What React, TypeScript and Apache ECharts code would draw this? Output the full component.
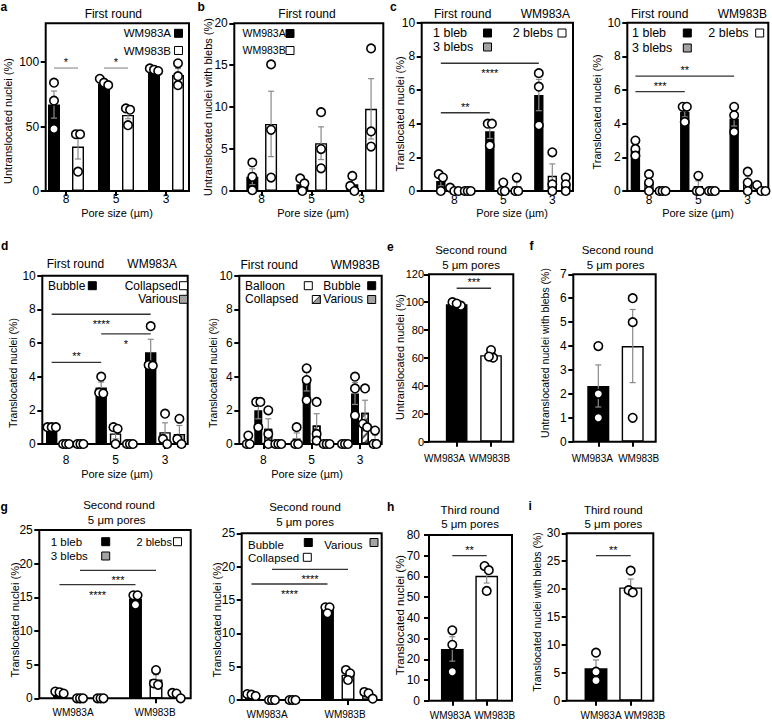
import React, { useEffect, useRef } from 'react';
import * as echarts from 'echarts';

const FONT = '"Liberation Sans", Arial, Helvetica, sans-serif';

// ================= DATA =================
// a: Untranslocated nuclei (%), first round
const aCats = ['8', '5', '3'];
const aMeanA = [67, 83, 93.5];
const aSemA = [10.5, 1.5, 0.8];
const aPtsA = [[84, 70, 48], [87, 84, 82], [95, 94, 93]];
const aMeanB = [34.5, 59, 90];
const aSemB = [9.7, 3.0, 4.9];
const aPtsB = [[44, 44, 15], [64, 63, 51], [99, 89, 82]];
const aTicks = [0, 50, 100];

// b: Untranslocated nuclei with blebs (%)
const bCats = ['8', '5', '3'];
const bMeanA = [1.7, 0.8, 0.8];
const bSemA = [0.95, 0.45, 0.55];
const bPtsA = [[3.4, 1.7, 0.1], [1.5, 0.9, 0.0], [1.8, 0.6, 0.0]];
const bMeanB = [8.0, 5.7, 9.8];
const bSemB = [3.9, 1.95, 3.6];
const bPtsB = [[15.1, 7.3, 1.6], [9.4, 5.0, 2.7], [17.0, 7.1, 5.3]];
const bTicks = [0, 5, 10, 15, 20];

// c: Translocated nuclei (%) by bleb count
const cCats = ['8', '5', '3'];
const cTicks = [0, 2, 4, 6, 8, 10];
const cAMean1 = [0.6, 3.55, 5.7];
const cASem1 = [0.3, 0.43, 0.93];
const cAPts1 = [[1.0, 0.8, 0.0], [4.0, 4.0, 2.7], [7.0, 6.2, 3.9]];
const cAMean2 = [0.07, 0.17, 0.9];
const cASem2 = [0.07, 0.17, 0.71];
const cAPts2 = [[0.2, 0, 0], [0.5, 0, 0], [2.3, 0.4, 0]];
const cAMean3 = [0, 0.27, 0.4];
const cASem3 = [0, 0.27, 0.23];
const cAPts3 = [[0, 0, 0], [0.8, 0, 0], [0.8, 0.4, 0]];
const cBMean1 = [2.45, 4.7, 4.3];
const cBSem1 = [0.26, 0.3, 0.44];
const cBPts1 = [[3.0, 2.5, 2.1], [5.0, 5.0, 4.1], [5.0, 4.5, 3.5]];
const cBMean2 = [0.5, 0.3, 0.55];
const cBSem2 = [0.29, 0.3, 0.34];
const cBPts2 = [[1.0, 0.5, 0], [0.9, 0, 0], [1.15, 0.5, 0]];
const cBMean3 = [0, 0, 0.12];
const cBSem3 = [0, 0, 0.12];
const cBPts3 = [[0, 0, 0], [0, 0, 0], [0.35, 0, 0]];

// d: Translocated nuclei (%) by bleb type
const dCats = ['8', '5', '3'];
const dTicks = [0, 2, 4, 6, 8, 10];
const dAMeanBub = [1.0, 3.35, 5.45];
const dASemBub = [0, 0.33, 0.77];
const dAPtsBub = [[1.0, 1.0, 1.0], [4.0, 3.05, 3.0], [7.0, 4.7, 4.65]];
const dAMeanCol = [0, 0.63, 0.7];
const dASemCol = [0, 0.32, 0.56];
const dAPtsCol = [[0, 0, 0], [1.0, 0.9, 0], [1.8, 0.3, 0]];
const dAMeanVar = [0, 0, 0.6];
const dASemVar = [0, 0, 0.5];
const dAPtsVar = [[0, 0, 0], [0, 0, 0], [1.5, 0.3, 0]];
const dBMeanBal = [0.17, 0.33, 0];
const dBSemBal = [0.17, 0.33, 0];
const dBPtsBal = [[0.5, 0, 0], [1.0, 0, 0], [0, 0, 0]];
const dBMeanBub = [2.0, 3.7, 3.0];
const dBSemBub = [0.5, 0.55, 0.65];
const dBPtsBub = [[2.5, 2.5, 1.0], [4.5, 3.8, 2.6], [4.0, 3.3, 1.7]];
const dBMeanCol = [0.9, 1.1, 1.85];
const dBSemCol = [0.6, 0.7, 0.75];
const dBPtsCol = [[2.0, 0.6, 0], [2.5, 0.6, 0.2], [3.3, 1.2, 1.0]];
const dBMeanVar = [0, 0, 0.27];
const dBSemVar = [0, 0, 0.27];
const dBPtsVar = [[0, 0, 0], [0, 0, 0], [0.8, 0, 0]];

// e, f: second round, 5 um pores
const lineCats = ['WM983A', 'WM983B'];
const eMean = [98.5, 62];
const eSem = [0.8, 1.7];
const ePts = [[97.5, 100, 99], [65.7, 60.2, 61]];
const eTicks = [0, 20, 40, 60, 80, 100, 120];
const fMean = [2.33, 4.0];
const fSem = [0.88, 1.53];
const fPts = [[4, 2, 1], [6, 5, 1]];
const fTicks = [0, 1, 2, 3, 4, 5, 6, 7];

// g: second round translocated by blebs / type
const gTicks = [0, 5, 10, 15, 20, 25];
const gAMean1 = [0.87, 14.8];
const gASem1 = [0.09, 0.47];
const gAPts1 = [[1.0, 0.9, 0.7], [15.3, 15.3, 13.9]];
const gAMean2 = [0, 2.8];
const gASem2 = [0, 0.7];
const gAPts2 = [[0, 0, 0], [4.2, 2.2, 2.0]];
const gAMean3 = [0, 0.5];
const gASem3 = [0, 0.26];
const gAPts3 = [[0, 0, 0], [0.8, 0.7, 0]];
const gBMeanBub = [0.77, 13.5];
const gBSemBub = [0.09, 0.3];
const gBPtsBub = [[0.9, 0.8, 0.6], [13.9, 13.9, 13.0]];
const gBMeanCol = [0, 3.8];
const gBSemCol = [0, 0.45];
const gBPtsCol = [[0, 0, 0], [4.5, 4.0, 3.0]];
const gBMeanVar = [0, 0.8];
const gBSemVar = [0, 0.3];
const gBPtsVar = [[0, 0, 0], [1.2, 1.0, 0.2]];

// h, i: third round
const hMean = [25, 60.3];
const hSem = [5.9, 3.5];
const hPts = [[34, 27, 14], [65, 63, 53]];
const hTicks = [0, 10, 20, 30, 40, 50, 60, 70, 80];
const iMean = [5.8, 20.3];
const iSem = [1.5, 1.5];
const iPts = [[8.6, 5.2, 3.6], [23.3, 19.8, 19.4]];
const iTicks = [0, 5, 10, 15, 20, 25, 30];

// ================= LAYOUT =================
type Fill = 'black' | 'white' | 'gray' | 'hatch';
interface S { fill: Fill | Fill[]; mean: number[]; sem: number[]; pts: number[][] }
interface Sig { c1: number; s1: number; c2: number; s2: number; y: number; text: string; pos: 'above' | 'below' }
interface P {
  frame: number[]; band: number[]; ymax: number; ticks: number[];
  cats: string[]; catFont: number; catOff: number; labelDx?: number[];
  yFont?: number; yMargin?: number;
  barW: number; step: number; series: S[]; sigs: Sig[]; sigColor: string;
}

const sig = (c1: number, s1: number, c2: number, s2: number, y: number, text: string, pos: 'above' | 'below'): Sig => ({ c1, s1, c2, s2, y, text, pos });

const PANELS: P[] = [
  { // a
    frame: [45.7, 23.3, 189, 191], band: [41, 191], ymax: 130, ticks: aTicks,
    cats: aCats, catFont: 12, catOff: 8.5, barW: 0.24, step: 0.48,
    series: [
      { fill: 'black', mean: aMeanA, sem: aSemA, pts: aPtsA },
      { fill: 'white', mean: aMeanB, sem: aSemB, pts: aPtsB },
    ],
    sigs: [sig(0, 0, 0, 1, 95.3, '*', 'above'), sig(1, 0, 1, 1, 95.3, '*', 'above')], sigColor: '#9a9a9a',
  },
  { // b
    frame: [234.3, 23.3, 383.3, 191], band: [236.7, 386.7], ymax: 20, ticks: bTicks,
    cats: bCats, catFont: 12, catOff: 8.5, barW: 0.24, step: 0.375,
    series: [
      { fill: 'black', mean: bMeanA, sem: bSemA, pts: bPtsA },
      { fill: 'white', mean: bMeanB, sem: bSemB, pts: bPtsB },
    ],
    sigs: [], sigColor: '#333',
  },
  { // c left
    frame: [421.7, 22.7, 573, 191], band: [429.8, 576.8], ymax: 10, ticks: cTicks,
    cats: cCats, catFont: 12, catOff: 9.5, barW: 0.19, step: 0.275,
    series: [
      { fill: 'black', mean: cAMean1, sem: cASem1, pts: cAPts1 },
      { fill: 'white', mean: cAMean2, sem: cASem2, pts: cAPts2 },
      { fill: 'gray', mean: cAMean3, sem: cASem3, pts: cAPts3 },
    ],
    sigs: [sig(0, 0, 2, 0, 7.59, '****', 'below'), sig(0, 0, 1, 0, 4.65, '**', 'above')], sigColor: '#333',
  },
  { // c right
    frame: [627.3, 22.7, 768.3, 191], band: [624.3, 772.4], ymax: 10, ticks: cTicks,
    cats: cCats, catFont: 12, catOff: 9.5, barW: 0.19, step: 0.275,
    series: [
      { fill: 'black', mean: cBMean1, sem: cBSem1, pts: cBPts1 },
      { fill: 'white', mean: cBMean2, sem: cBSem2, pts: cBPts2 },
      { fill: 'gray', mean: cBMean3, sem: cBSem3, pts: cBPts3 },
    ],
    sigs: [sig(0, 0, 2, 0, 6.83, '**', 'above'), sig(0, 0, 1, 0, 5.9, '***', 'above')], sigColor: '#333',
  },
  { // d left
    frame: [42.3, 275.7, 187.7, 444], band: [41.3, 189.8], ymax: 10, ticks: dTicks,
    cats: dCats, catFont: 12, catOff: 16.5, barW: 0.23, step: 0.29,
    series: [
      { fill: 'black', mean: dAMeanBub, sem: dASemBub, pts: dAPtsBub },
      { fill: 'white', mean: dAMeanCol, sem: dASemCol, pts: dAPtsCol },
      { fill: 'gray', mean: dAMeanVar, sem: dASemVar, pts: dAPtsVar },
    ],
    sigs: [sig(0, 0, 2, 0, 7.71, '****', 'below'), sig(1, 0, 2, 0, 6.54, '*', 'below'), sig(0, 0, 1, 0, 4.85, '**', 'above')], sigColor: '#333',
  },
  { // d right
    frame: [239.3, 275.7, 381.7, 444], band: [239.1, 384.2], ymax: 10, ticks: dTicks,
    cats: dCats, catFont: 12, catOff: 16.5, barW: 0.165, step: 0.207,
    series: [
      { fill: 'white', mean: dBMeanBal, sem: dBSemBal, pts: dBPtsBal },
      { fill: 'black', mean: dBMeanBub, sem: dBSemBub, pts: dBPtsBub },
      { fill: 'hatch', mean: dBMeanCol, sem: dBSemCol, pts: dBPtsCol },
      { fill: 'gray', mean: dBMeanVar, sem: dBSemVar, pts: dBPtsVar },
    ],
    sigs: [], sigColor: '#333',
  },
  { // e
    frame: [429, 274.3, 513.3, 441.7], band: [439.5, 508.2], ymax: 120, ticks: eTicks,
    cats: lineCats, catFont: 10, catOff: 17.5, labelDx: [-12, -1.5], yFont: 11, yMargin: 5,
    barW: 0.63, step: 0,
    series: [{ fill: ['black', 'white'], mean: eMean, sem: eSem, pts: ePts }],
    sigs: [sig(0, 0, 1, 0, 110, '***', 'above')], sigColor: '#333',
  },
  { // f
    frame: [573.3, 274.3, 655.7, 441.7], band: [581.1, 649.9], ymax: 7, ticks: fTicks,
    cats: lineCats, catFont: 10, catOff: 17.5, labelDx: [-6, 6], barW: 0.64, step: 0,
    series: [{ fill: ['black', 'white'], mean: fMean, sem: fSem, pts: fPts }],
    sigs: [], sigColor: '#333',
  },
  { // g left
    frame: [39.3, 530, 190.7, 698.3], band: [42, 194], ymax: 25, ticks: gTicks,
    cats: lineCats, catFont: 10, catOff: 15, labelDx: [-7, -1], barW: 0.17, step: 0.27,
    series: [
      { fill: 'black', mean: gAMean1, sem: gASem1, pts: gAPts1 },
      { fill: 'white', mean: gAMean2, sem: gASem2, pts: gAPts2 },
      { fill: 'gray', mean: gAMean3, sem: gASem3, pts: gAPts3 },
    ],
    sigs: [sig(0, 1, 1, 1, 19.0, '***', 'below'), sig(0, 0, 1, 0, 16.9, '****', 'below')], sigColor: '#333',
  },
  { // g right
    frame: [241.7, 533.3, 381.7, 700], band: [234, 386], ymax: 25, ticks: gTicks,
    cats: lineCats, catFont: 10, catOff: 15, labelDx: [-5, -3], barW: 0.17, step: 0.27,
    series: [
      { fill: 'black', mean: gBMeanBub, sem: gBSemBub, pts: gBPtsBub },
      { fill: 'white', mean: gBMeanCol, sem: gBSemCol, pts: gBPtsCol },
      { fill: 'gray', mean: gBMeanVar, sem: gBSemVar, pts: gBPtsVar },
    ],
    sigs: [sig(0, 1, 1, 1, 19.6, '****', 'below'), sig(0, 0, 1, 0, 17.4, '****', 'below')], sigColor: '#333',
  },
  { // h
    frame: [429, 535, 512, 700.7], band: [435.1, 503.9], ymax: 80, ticks: hTicks,
    cats: lineCats, catFont: 10, catOff: 16, labelDx: [-2, 8], yMargin: 9, barW: 0.66, step: 0,
    series: [{ fill: ['black', 'white'], mean: hMean, sem: hSem, pts: hPts }],
    sigs: [sig(0, 0, 1, 0, 70, '**', 'above')], sigColor: '#333',
  },
  { // i
    frame: [566.7, 533.3, 653.3, 700.7], band: [578.65, 648.05], ymax: 30, ticks: iTicks,
    cats: lineCats, catFont: 10, catOff: 16, labelDx: [5, 14], barW: 0.66, step: 0,
    series: [{ fill: ['black', 'white'], mean: iMean, sem: iSem, pts: iPts }],
    sigs: [sig(0, 0, 1, 0, 26, '**', 'above')], sigColor: '#333',
  },
];

// text decorations: [text, x, y, size, align, bold, rotated]
type T = [string, number, number, number, string?, boolean?, boolean?];
const TEXTS: T[] = [
  ['a', 0.5, 6.8, 12, 'left', true], ['b', 197.5, 6.8, 12, 'left', true], ['c', 390, 6.8, 12, 'left', true],
  ['d', 1, 246, 12, 'left', true], ['e', 387, 247, 12, 'left', true], ['f', 529.5, 246, 12, 'left', true],
  ['g', 0.5, 507, 12, 'left', true], ['h', 387, 507, 12, 'left', true], ['i', 528.5, 506, 12, 'left', true],
  ['First round', 113.3, 14, 12], ['First round', 307, 14, 12],
  ['First round', 434, 14, 12, 'left'], ['WM983A', 570, 14, 12, 'right'],
  ['First round', 631, 14, 12, 'left'], ['WM983B', 767, 14, 12, 'right'],
  ['First round', 46.7, 264.3, 12, 'left'], ['WM983A', 176.7, 264.3, 12, 'right'],
  ['First round', 240.5, 265, 12, 'left'], ['WM983B', 380, 265, 12, 'right'],
  ['Second round', 471, 250, 11.5], ['5 μm pores', 471, 264.5, 11.5],
  ['Second round', 617.5, 250, 11.5], ['5 μm pores', 615.5, 264.5, 11.5],
  ['Second round', 119, 505, 11.5], ['5 μm pores', 116.7, 520, 11.5],
  ['Second round', 305, 507, 11.5], ['5 μm pores', 305, 522, 11.5],
  ['Third round', 470, 510, 11.5], ['5 μm pores', 470, 524, 11.5],
  ['Third round', 613.3, 510, 11.5], ['5 μm pores', 613.3, 524, 11.5],
  ['Pore size (µm)', 117, 212.5, 11], ['Pore size (µm)', 313, 212.5, 11], ['Pore size (µm)', 512, 212.5, 11],
  ['Pore size (µm)', 698, 212.5, 11], ['Pore size (µm)', 117, 474, 11], ['Pore size (µm)', 307, 474, 11],
  ['Untranslocated nuclei (%)', 8.3, 121, 11, 'center', false, true],
  ['Untranslocated nuclei with blebs (%)', 208.3, 107, 11, 'center', false, true],
  ['Translocated nuclei (%)', 400, 114, 11, 'center', false, true],
  ['Translocated nuclei (%)', 596.7, 112, 11, 'center', false, true],
  ['Translocated nuclei (%)', 13.3, 373, 10.5, 'center', false, true],
  ['Translocated nuclei (%)', 213.3, 373, 10.5, 'center', false, true],
  ['Untranslocated nuclei (%)', 400, 357, 11, 'center', false, true],
  ['Untranslocated nuclei with blebs (%)', 545, 353, 10.5, 'center', false, true],
  ['Translocated nuclei (%)', 15, 620, 11, 'center', false, true],
  ['Translocated nuclei (%)', 216.7, 620, 11, 'center', false, true],
  ['Translocated nuclei (%)', 400, 615, 11.5, 'center', false, true],
  ['Translocated nuclei with blebs (%)', 536.7, 612, 10.5, 'center', false, true],
];

// legends: [text, tx, ty, align, swatchX, swatchY, fill, fontSize]
type L = [string, number, number, string, number, number, Fill, number];
const LEGENDS: L[] = [
  ['WM983A', 171, 33.3, 'right', 174.5, 29.3, 'black', 11.5], ['WM983B', 171, 50.5, 'right', 174.5, 46.5, 'white', 11.5],
  ['WM983A', 242.5, 33.3, 'left', 286, 29.5, 'black', 10.5], ['WM983B', 242.5, 50.3, 'left', 286, 46.5, 'white', 10.5],
  ['1 bleb', 433, 33, 'left', 483.5, 29, 'black', 12.5], ['2 blebs', 512.7, 33, 'left', 558, 29, 'white', 12.5],
  ['3 blebs', 433, 47, 'left', 483.5, 43, 'gray', 12.5],
  ['1 bleb', 632, 33, 'left', 683.3, 29, 'black', 12.5], ['2 blebs', 708.3, 33, 'left', 755.7, 29, 'white', 12.5],
  ['3 blebs', 632, 47.5, 'left', 683.3, 44, 'gray', 12.5],
  ['Bubble', 48, 285.5, 'left', 88.3, 281.7, 'black', 12], ['Collapsed', 178, 285.5, 'right', 179.5, 281.7, 'white', 12],
  ['Various', 178, 299, 'right', 179.5, 295.3, 'gray', 12],
  ['Balloon', 245, 285.5, 'left', 304.3, 281.7, 'white', 12], ['Bubble', 323.3, 285.5, 'left', 367.7, 281.7, 'black', 12],
  ['Collapsed', 245, 299, 'left', 312.3, 295.5, 'hatch', 12], ['Various', 323.3, 299, 'left', 367.7, 295.5, 'gray', 12],
  ['1 bleb', 50.7, 542, 'left', 101.7, 537.7, 'black', 11.5], ['2 blebs', 136.5, 542, 'left', 173.5, 537.7, 'white', 11],
  ['3 blebs', 50.7, 556, 'left', 101.7, 552, 'gray', 11.5],
  ['Bubble', 248, 544.5, 'left', 304.3, 538.5, 'black', 11.5], ['Various', 324.3, 544.5, 'left', 370, 538.5, 'gray', 11.5],
  ['Collapsed', 248, 557.5, 'left', 303.3, 553.3, 'white', 11.5],
];

const GRAY = '#a3a3a3';
const ERR = '#8a8a8a';

function barStyle(f: Fill): any {
  const base = { borderColor: '#000', borderWidth: 1.4 };
  if (f === 'black') return { ...base, color: '#000' };
  if (f === 'white') return { ...base, color: '#fff' };
  if (f === 'gray') return { ...base, color: GRAY };
  return {
    ...base, color: '#fff',
    decal: { symbol: 'rect', symbolSize: 1, dashArrayX: [1, 0], dashArrayY: [1.2, 2.2], rotation: -Math.PI / 4, color: '#555', backgroundColor: '#fff' },
  };
}

// horizontal spreading of overlapping replicate points (px offsets)
function spread(vals: number[], pxPerY: number): number[] {
  const idx = vals.map((_, i) => i).sort((p, q) => vals[q] - vals[p]);
  const res = new Array(vals.length).fill(0);
  let cluster: number[] = [];
  const flush = () => {
    const m = cluster.length;
    const gap = vals[cluster[0]] === 0 ? 3 : 4.2;
    cluster.forEach((id, j) => { res[id] = (j - (m - 1) / 2) * gap; });
    cluster = [];
  };
  idx.forEach((id) => {
    if (cluster.length && Math.abs(vals[cluster[cluster.length - 1]] - vals[id]) * pxPerY > 6) flush();
    cluster.push(id);
  });
  flush();
  return res;
}

function buildOption(): any {
  const grid: any[] = [];
  const xAxis: any[] = [];
  const yAxis: any[] = [];
  const series: any[] = [];
  const graphic: any[] = [];

  PANELS.forEach((p, pi) => {
    const [l, t, r, b] = p.frame;
    const [x0, x1] = p.band;
    const n = p.cats.length;
    const k = p.series.length;
    const pxPerX = (x1 - x0) / n;
    const pxPerY = (b - t) / p.ymax;
    grid.push({ left: x0, top: t, width: x1 - x0, height: b - t, containLabel: false, outerBoundsMode: 'none' });
    const rich: any = {};
    p.cats.forEach((_, i) => {
      const d = p.labelDx ? p.labelDx[i] : 0;
      rich['s' + i] = { fontSize: p.catFont, fontFamily: FONT, color: '#000', padding: [0, d < 0 ? -2 * d : 0, 0, d > 0 ? 2 * d : 0] };
    });
    xAxis.push({
      type: 'category', gridIndex: pi, data: p.cats, boundaryGap: true,
      axisLine: { show: false, onZero: false },
      axisTick: { show: true, alignWithLabel: true, length: 5, lineStyle: { color: '#000', width: 2 } },
      axisLabel: { interval: 0, margin: p.catOff - p.catFont * 0.58, formatter: (v: string, i: number) => `{s${i}|${v}}`, rich },
      splitLine: { show: false },
    });
    xAxis.push({ type: 'value', gridIndex: pi, min: -0.5, max: n - 0.5, show: false, axisLine: { onZero: false } });
    yAxis.push({
      type: 'value', gridIndex: pi, min: 0, max: p.ymax, offset: x0 - l,
      axisLine: { show: false, onZero: false },
      axisTick: { show: true, length: 5, lineStyle: { color: '#000', width: 2 }, customValues: p.ticks },
      axisLabel: { customValues: p.ticks, margin: p.yMargin ?? 6.5, fontSize: p.yFont ?? 12, fontFamily: FONT, color: '#000' },
      splitLine: { show: false },
    });

    const offs = p.series.map((_, si) => (si - (k - 1) / 2) * p.step);
    p.series.forEach((s, si) => {
      const fillOf = (ci: number): Fill => (Array.isArray(s.fill) ? s.fill[ci] : s.fill);
      series.push({
        type: 'bar', xAxisIndex: 2 * pi, yAxisIndex: pi, silent: true, z: 2,
        barWidth: `${p.barW * 100}%`,
        barGap: k > 1 ? `${((p.step - p.barW) / p.barW) * 100}%` : '0%',
        data: s.mean.map((v, ci) => ({ value: v, itemStyle: barStyle(fillOf(ci)) })),
      });
      const errData = s.mean.map((m, ci) => [ci + offs[si], m, s.sem[ci]]).filter((d) => d[2] > 0);
      series.push({
        type: 'custom', xAxisIndex: 2 * pi + 1, yAxisIndex: pi, silent: true, z: 4, clip: false,
        encode: { x: 0, y: 1 },
        data: errData,
        renderItem: (_params: any, api: any) => {
          const x = api.value(0), m = api.value(1), e = api.value(2);
          const lo = api.coord([x, Math.max(0, m - e)]);
          const hi = api.coord([x, m + e]);
          const st = { stroke: ERR, lineWidth: 1.2 };
          return {
            type: 'group', children: [
              { type: 'line', shape: { x1: lo[0], y1: lo[1], x2: hi[0], y2: hi[1] }, style: st },
              { type: 'line', shape: { x1: hi[0] - 3, y1: hi[1], x2: hi[0] + 3, y2: hi[1] }, style: st },
              { type: 'line', shape: { x1: lo[0] - 3, y1: lo[1], x2: lo[0] + 3, y2: lo[1] }, style: st },
            ],
          };
        },
      });
      const pdata: number[][] = [];
      s.pts.forEach((g, ci) => {
        const js = spread(g, pxPerY);
        g.forEach((v, j) => pdata.push([ci + offs[si] + js[j] / pxPerX, v]));
      });
      series.push({
        type: 'scatter', xAxisIndex: 2 * pi + 1, yAxisIndex: pi, silent: true, z: 10, clip: false,
        symbol: 'circle', symbolSize: 8.5, data: pdata,
        itemStyle: { color: '#fff', borderColor: '#000', borderWidth: 1.6, opacity: 1 },
      });
    });

    if (p.sigs.length) {
      series.push({
        type: 'custom', xAxisIndex: 2 * pi + 1, yAxisIndex: pi, silent: true, z: 12, clip: false,
        encode: { x: 0, y: 2 },
        data: p.sigs.map((g) => [g.c1 + offs[g.s1], g.c2 + offs[g.s2], g.y]),
        renderItem: (params: any, api: any) => {
          const g = p.sigs[params.dataIndex];
          const a = api.coord([api.value(0), api.value(2)]);
          const c = api.coord([api.value(1), api.value(2)]);
          const mid = (a[0] + c[0]) / 2;
          const ty = g.pos === 'above' ? a[1] - 11.5 : a[1] + 4.5;
          return {
            type: 'group', children: [
              { type: 'line', shape: { x1: a[0], y1: a[1], x2: c[0], y2: c[1] }, style: { stroke: p.sigColor, lineWidth: 1.3 } },
              { type: 'text', style: { text: g.text, x: mid, y: ty, textAlign: 'center', textVerticalAlign: 'top', font: `11px ${FONT}`, fill: '#000' } },
            ],
          };
        },
      });
    }

    graphic.push({
      type: 'rect', z: 3, silent: true,
      shape: { x: l, y: t, width: r - l, height: b - t },
      style: { fill: 'none', stroke: '#000', lineWidth: 2 },
    });
  });

  TEXTS.forEach(([text, x, y, size, align, bold, rot]) => {
    graphic.push({
      type: 'text', x, y, rotation: rot ? Math.PI / 2 : 0, z: 20, silent: true,
      style: {
        text, x: 0, y: 0, textAlign: align || 'center', textVerticalAlign: 'middle',
        font: `${bold ? 'bold ' : ''}${size}px ${FONT}`, fill: '#000',
      },
    });
  });

  LEGENDS.forEach(([text, tx, ty, align, sx, sy, fill, size]) => {
    graphic.push({
      type: 'text', x: tx, y: ty, z: 20, silent: true,
      style: { text, x: 0, y: 0, textAlign: align, textVerticalAlign: 'middle', font: `${size}px ${FONT}`, fill: '#000' },
    });
    const w = 8, h = 8;
    if (fill === 'hatch') {
      graphic.push({ type: 'rect', z: 20, silent: true, shape: { x: sx, y: sy, width: w, height: h }, style: { fill: '#fff', stroke: '#000', lineWidth: 1 } });
      graphic.push({ type: 'polygon', z: 21, silent: true, shape: { points: [[sx + w, sy], [sx + w, sy + h], [sx, sy + h]] }, style: { fill: '#9a9a9a', stroke: '#000', lineWidth: 0.8 } });
    } else {
      graphic.push({
        type: 'rect', z: 20, silent: true, shape: { x: sx, y: sy, width: w, height: h },
        style: { fill: fill === 'black' ? '#000' : fill === 'gray' ? GRAY : '#fff', stroke: '#000', lineWidth: 1 },
      });
    }
  });

  return { animation: false, backgroundColor: '#fff', grid, xAxis, yAxis, series, graphic };
}

export default function App() {
  const ref = useRef<HTMLDivElement>(null);
  useEffect(() => {
    if (!ref.current) return;
    const chart = echarts.init(ref.current, undefined, { renderer: 'svg' });
    chart.setOption(buildOption());
    return () => chart.dispose();
  }, []);
  return <div ref={ref} style={{ position: 'absolute', left: 0, top: 0, width: 772, height: 722, background: '#fff' }} />;
}
